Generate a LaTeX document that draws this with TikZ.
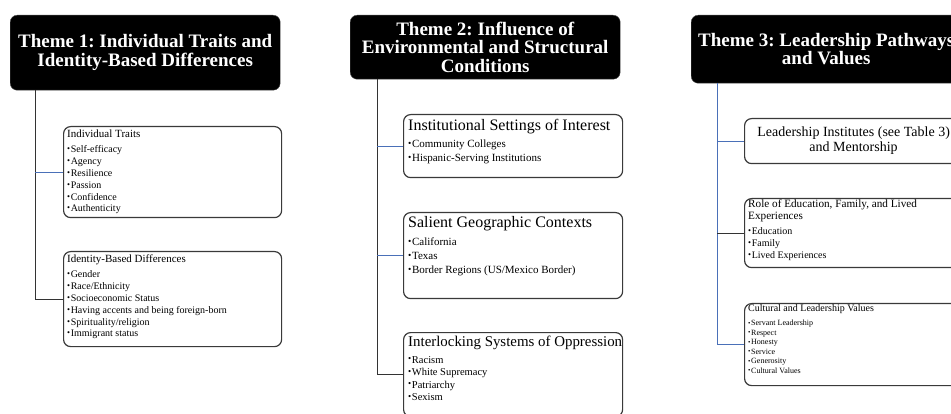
\documentclass[tikz,border=0pt]{standalone}
\usepackage{fontspec}
\setmainfont{Liberation Serif}
\definecolor{lnblue}{HTML}{4A70B8}
\definecolor{lndark}{HTML}{333333}
\definecolor{bxgray}{HTML}{3A3A3A}
\newcommand\bu{\raisebox{0.1em}{\scalebox{0.85}{•}}\hspace{0.6pt}}
\newcommand\fs[2]{\fontsize{#1}{#2}\selectfont}
\frenchspacing
\begin{document}
\begin{tikzpicture}[x=1pt,y=-1pt,
 hdr/.style={fill=black, draw=black!70, rounded corners=7pt, text=white, font=\bfseries\fs{19}{18.5}, align=center, inner sep=0pt, anchor=north west},
 bx/.style={draw=bxgray, line width=1.2pt, rounded corners=7pt, fill=white, inner sep=0pt, anchor=north west},
 txt/.style={anchor=base west, inner sep=0pt},
 bl/.style={draw=lnblue, line width=1pt},
 dk/.style={draw=lndark, line width=1pt}]
\useasboundingbox (0,0) rectangle (951,414);
\clip (0,0) rectangle (951,414);
\fill[white] (0,0) rectangle (951,414);
% headers
\node[hdr, minimum width=270pt, minimum height=75pt] (h1) at (10,15) {Theme 1: Individual Traits and\\Identity-Based Differences};
\node[hdr, minimum width=270pt, minimum height=64pt] (h2) at (350,15) {Theme 2: Influence of\\Environmental and Structural\\Conditions};
\node[hdr, minimum width=270pt, minimum height=68pt] (h3) at (691,15) {Theme 3: Leadership Pathways\\and Values};
% boxes
\node[bx, minimum width=218pt, minimum height=91pt] (b11) at (63,126) {};
\node[bx, minimum width=218pt, minimum height=95pt] (b12) at (63,251) {};
\node[bx, minimum width=219pt, minimum height=63pt] (b21) at (403,114) {};
\node[bx, minimum width=219pt, minimum height=86pt] (b22) at (403,212) {};
\node[bx, minimum width=219pt, minimum height=84pt] (b23) at (403,332) {};
\node[bx, minimum width=218pt, minimum height=45pt] (b31) at (744,118) {};
\node[bx, minimum width=218pt, minimum height=69pt] (b32) at (744,198) {};
\node[bx, minimum width=218pt, minimum height=82pt] (b33) at (744,303) {};
% connectors
\coordinate (v1) at ([xshift=25pt]h1.south west);
\coordinate (v2) at ([xshift=27pt]h2.south west);
\coordinate (v3) at ([xshift=26pt]h3.south west);
\draw[dk] (v1) |- (b12.west);
\draw[bl] (v1 |- b11.west) -- (b11.west);
\draw[dk] (v2) |- (b23.west);
\draw[bl] (v2 |- b21.west) -- (b21.west);
\draw[bl] (v2 |- b22.west) -- (b22.west);
\draw[bl] (v3) |- (b33.west);
\draw[bl] (v3 |- b31.west) -- (b31.west);
\draw[dk] (v3 |- b32.west) -- (b32.west);
% texts
\node[txt, font=\fs{10}{11.8}] (t11) at (67,138) {\begin{tabular}[t]{@{}l@{}}{\fs{11}{11.8}Individual Traits}\\[3.2pt]\bu Self-efficacy\\ \bu Agency\\ \bu Resilience\\ \bu Passion\\ \bu Confidence\\ \bu Authenticity\end{tabular}};
\node[txt, font=\fs{10}{11.8}] (t12) at (67,263) {\begin{tabular}[t]{@{}l@{}}{\fs{11}{11.8}Identity-Based Differences}\\[3.2pt]\bu Gender\\ \bu Race/Ethnicity\\ \bu Socioeconomic Status\\ \bu Having accents and being foreign-born\\ \bu Spirituality/religion\\ \bu Immigrant status\end{tabular}};
\node[txt, font=\fs{11}{14}] (t21) at (408,131) {\begin{tabular}[t]{@{}l@{}}{\fs{16}{14}Institutional Settings of Interest}\\[3pt]\bu Community Colleges\\ \bu Hispanic-Serving Institutions\end{tabular}};
\node[txt, font=\fs{11}{13.7}] (t22) at (408,228) {\begin{tabular}[t]{@{}l@{}}{\fs{16}{13.7}Salient Geographic Contexts}\\[4.3pt]\bu California\\ \bu Texas\\ \bu Border Regions (US/Mexico Border)\end{tabular}};
\node[txt, font=\fs{10.5}{12.5}] (t23) at (408,346) {\begin{tabular}[t]{@{}l@{}}{\fs{14.9}{12.5}Interlocking Systems of Oppression}\\[4.5pt]\bu Racism\\ \bu White Supremacy\\ \bu Patriarchy\\ \bu Sexism\end{tabular}};
\node[inner sep=0pt, align=center, font=\fs{14}{15}] (t31) at (b31.center) {Leadership Institutes (see Table 3)\\and Mentorship};
\node[txt, font=\fs{10}{11.8}] (t32) at (748,208) {\begin{tabular}[t]{@{}l@{}}{\fs{11.2}{11.8}Role of Education, Family, and Lived}\\ {\fs{11.2}{11.8}Experiences}\\[3pt]\bu Education\\ \bu Family\\ \bu Lived Experiences\end{tabular}};
\node[txt, font=\fs{8}{9.5}] (t33) at (748,312) {\begin{tabular}[t]{@{}l@{}}{\fs{10}{9.5}Cultural and Leadership Values}\\[4.5pt]\bu Servant Leadership\\ \bu Respect\\ \bu Honesty\\ \bu Service\\ \bu Generosity\\ \bu Cultural Values\end{tabular}};
\end{tikzpicture}
\end{document}
